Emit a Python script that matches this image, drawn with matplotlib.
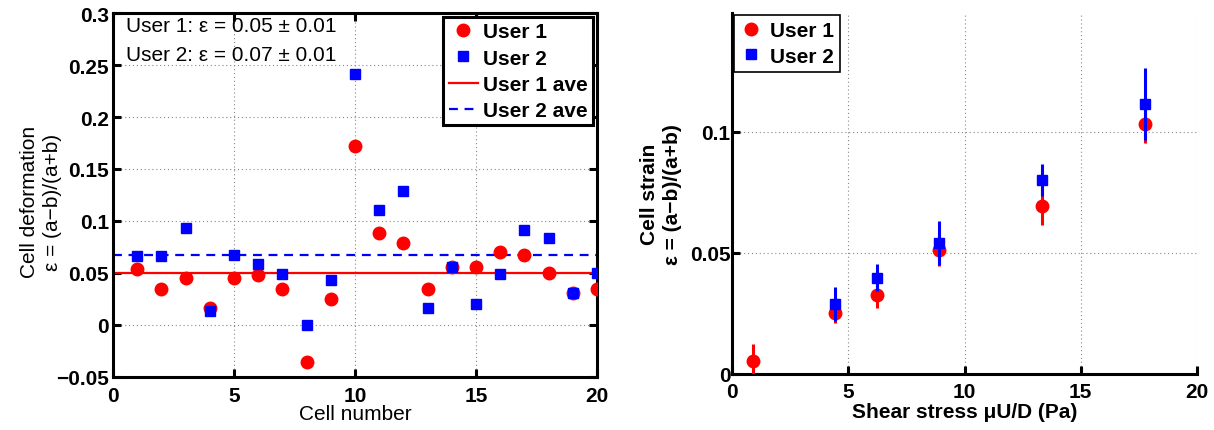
import matplotlib
matplotlib.use("Agg")
import matplotlib.pyplot as plt
from matplotlib.ticker import FuncFormatter

plt.rcParams['font.family'] = ['Liberation Sans', 'DejaVu Sans']

# Data - left panel (per-cell deformation)
cells = list(range(1, 21))
user1 = [0.054, 0.035, 0.045, 0.016, 0.045, 0.048, 0.035, -0.036, 0.025, 0.172,
         0.088, 0.079, 0.035, 0.0555, 0.0555, 0.070, 0.067, 0.050, 0.031, 0.035]
user2 = [0.066, 0.066, 0.0935, 0.013, 0.067, 0.059, 0.049, 0.0, 0.043, 0.241,
         0.111, 0.129, 0.016, 0.056, 0.020, 0.049, 0.091, 0.084, 0.031, 0.050]
user1_ave = 0.050
user2_ave = 0.067

# Data - right panel (strain vs shear stress)
stress1 = [0.89, 4.44, 6.22, 8.89, 13.32, 17.76]
strain1 = [0.0055, 0.0252, 0.0324, 0.051, 0.0693, 0.1032]
err1 = [0.007, 0.004, 0.005, 0.0065, 0.008, 0.008]
stress2 = [4.44, 6.22, 8.89, 13.32, 17.76]
strain2 = [0.0288, 0.0398, 0.0541, 0.0802, 0.1114]
err2 = [0.007, 0.0055, 0.009, 0.0066, 0.0147]

FS = 15


def fmt(v, pos):
    return ('%g' % round(v, 4)).replace('-', '\u2212')


fig = plt.figure(figsize=(12.14, 4.31), dpi=100)

# ---- left panel ----
ax1 = fig.add_axes([0.0931, 0.123, 0.3987, 0.8445])
ax1.plot(cells, user1, 'o', color='red', markersize=9, label='User 1', zorder=3)
ax1.plot(cells, user2, 's', color='blue', markersize=6.5, label='User 2', zorder=4)
ax1.axhline(user1_ave, color='red', lw=1.6, label='User 1 ave', zorder=2)
ax1.axhline(user2_ave, color='blue', lw=1.6, ls=(0, (4, 3)), label='User 2 ave', zorder=2)
ax1.set_xlim(0, 20)
ax1.set_ylim(-0.05, 0.3)
ax1.set_xticks([0, 5, 10, 15, 20])
ax1.set_yticks([-0.05, 0, 0.05, 0.1, 0.15, 0.2, 0.25, 0.3])
ax1.yaxis.set_major_formatter(FuncFormatter(fmt))
ax1.grid(True, color='#888888', ls=(0, (1, 2.5)), lw=0.8)
ax1.tick_params(direction='in', length=6, width=2.2, top=True, right=True,
                labelsize=FS)
ax1.tick_params(axis='x', pad=6.5)
ax1.tick_params(axis='y', pad=3)
for lab in ax1.get_xticklabels() + ax1.get_yticklabels():
    lab.set_fontweight('bold')
for s in ax1.spines.values():
    s.set_linewidth(2.2)
ax1.set_xlabel('Cell number', fontsize=FS, va='center')
ax1.xaxis.set_label_coords(0.5, -0.1)
ax1.set_ylabel('Cell deformation\n\u03b5 = (a\u2212b)/(a+b)', fontsize=FS,
               va='center', linespacing=1.3)
ax1.yaxis.set_label_coords(-0.149, 0.483)
ax1.text(0.027, 0.967, 'User 1: \u03b5 = 0.05 \u00b1 0.01', transform=ax1.transAxes,
         fontsize=FS, va='center', ha='left')
ax1.text(0.027, 0.887, 'User 2: \u03b5 = 0.07 \u00b1 0.01', transform=ax1.transAxes,
         fontsize=FS, va='center', ha='left')
leg1 = ax1.legend(loc='upper right', prop={'weight': 'bold', 'size': FS},
                  fancybox=False, framealpha=1, edgecolor='black', borderaxespad=0.2,
                  handlelength=1.4, handletextpad=0.25, labelspacing=0.35, borderpad=0.25)
leg1.get_frame().set_linewidth(2.2)

# ---- right panel ----
ax2 = fig.add_axes([0.603, 0.13, 0.383, 0.8375])
eb1 = ax2.errorbar(stress1, strain1, yerr=err1, fmt='o', color='red', markersize=9,
                   elinewidth=2.2, capsize=0, zorder=3)
eb2 = ax2.errorbar(stress2, strain2, yerr=err2, fmt='s', color='blue', markersize=6.5,
                   elinewidth=2.2, capsize=0, zorder=4)
ax2.set_xlim(0, 20)
ax2.set_ylim(0, 0.149)
ax2.set_xticks([0, 5, 10, 15, 20])
ax2.set_yticks([0, 0.05, 0.1])
ax2.yaxis.set_major_formatter(FuncFormatter(fmt))
ax2.grid(True, color='#888888', ls=(0, (1, 2.5)), lw=0.8)
ax2.spines['top'].set_visible(False)
ax2.spines['right'].set_visible(False)
for s in ax2.spines.values():
    s.set_linewidth(2.2)
ax2.tick_params(direction='in', length=6, width=2.2, labelsize=FS)
ax2.tick_params(axis='x', pad=6)
ax2.tick_params(axis='y', pad=1)
for lab in ax2.get_xticklabels() + ax2.get_yticklabels():
    lab.set_fontweight('bold')
ax2.set_xlabel('Shear stress \u03bcU/D (Pa)', fontsize=FS, fontweight='bold', va='center')
ax2.xaxis.set_label_coords(0.5, -0.105)
ax2.set_ylabel('Cell strain\n\u03b5 = (a\u2212b)/(a+b)', fontsize=FS,
               fontweight='bold', va='center', linespacing=1.3)
ax2.yaxis.set_label_coords(-0.153, 0.5)
leg2 = ax2.legend([eb1[0], eb2[0]], ['User 1', 'User 2'], loc='upper left',
                  prop={'weight': 'bold', 'size': FS},
                  fancybox=False, framealpha=1, edgecolor='black', borderaxespad=0.1,
                  handlelength=1.0, handletextpad=0.4, labelspacing=0.3, borderpad=0.3)
leg2.get_frame().set_linewidth(1.2)

fig.savefig('out.png', dpi=100)
